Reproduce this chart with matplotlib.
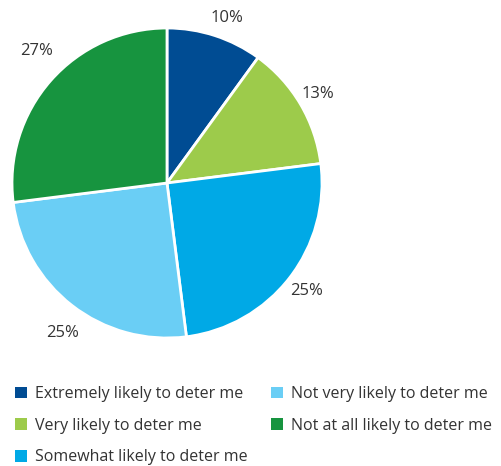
import numpy as np
import matplotlib
matplotlib.use("Agg")
import matplotlib.pyplot as plt
from matplotlib.patches import Patch

categories = ["Extremely likely to deter me", "Very likely to deter me",
              "Somewhat likely to deter me", "Not very likely to deter me",
              "Not at all likely to deter me"]
values = [10, 13, 25, 25, 27]
colors = ["#004C93", "#9DCB4B", "#00A9E6", "#6ACEF5", "#17943F"]
label_dist = [1.13, 1.13, 1.14, 1.18, 1.2]
label_shift = [-2, 0, 0, 3, -4]

plt.rcParams['font.family'] = ['Open Sans', 'DejaVu Sans']
fig = plt.figure(figsize=(5.01, 4.66), dpi=100)
ax = fig.add_axes([12/501, (466-338)/466, 310/501, 310/466])
wedges, texts = ax.pie(values, colors=colors, startangle=90, counterclock=False,
                       labels=[f"{v}%" for v in values], labeldistance=1.13,
                       wedgeprops=dict(edgecolor="white", linewidth=2),
                       textprops=dict(fontsize=12, color="#333333"))
for w, t, d, s in zip(wedges, texts, label_dist, label_shift):
    ang = np.deg2rad((w.theta1 + w.theta2) / 2 + s)
    t.set_position((d * np.cos(ang), d * np.sin(ang)))
    t.set_ha("center"); t.set_va("center")
ax.set_xlim(-1, 1); ax.set_ylim(-1, 1)
ax.set_aspect("equal")
ax.axis("off")

handles = [Patch(facecolor=c, edgecolor="none") for c in colors]
fig.legend(handles, categories, ncol=2, loc="upper left",
           bbox_to_anchor=(15/501, 1 - 386/466), frameon=False,
           borderpad=0, borderaxespad=0,
           fontsize=11.5, handlelength=0.75, handleheight=0.75,
           handletextpad=0.5, columnspacing=1.45, labelspacing=0.98,
           labelcolor="#333333")
fig.savefig("out.png", dpi=100)
